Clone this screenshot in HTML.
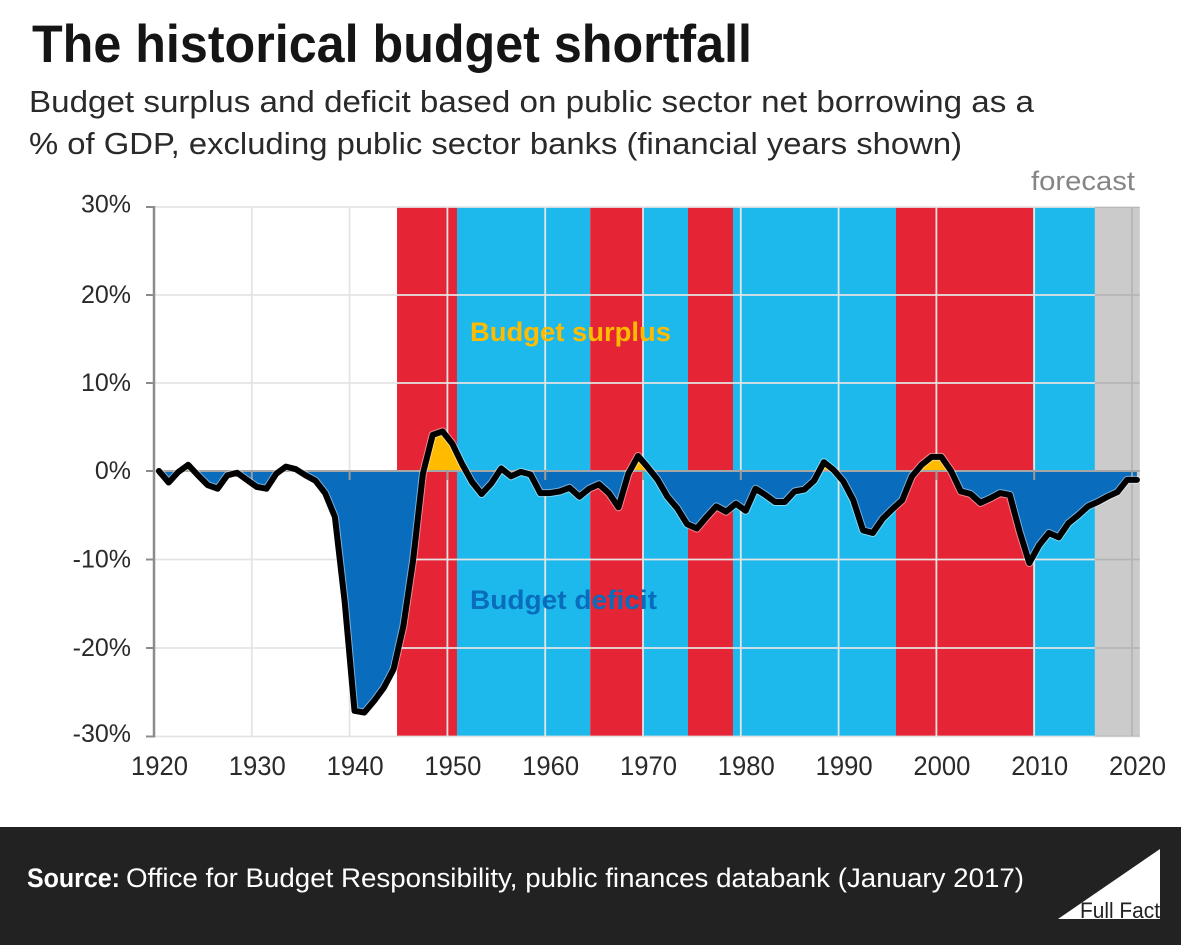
<!DOCTYPE html>
<html lang="en">
<head>
<meta charset="utf-8">
<title>The historical budget shortfall</title>
<style>
html,body{margin:0;padding:0;background:#fff;}
svg{display:block;}
text{font-family:"Liberation Sans",sans-serif;}
</style>
</head>
<body>
<svg id="chart" xmlns="http://www.w3.org/2000/svg" width="1181" height="945" viewBox="0 0 1181 945">
  <defs>
    <clipPath id="clip-above"><rect id="clip-above-rect" x="0" y="0" width="1181" height="471"/></clipPath>
    <clipPath id="clip-below"><rect id="clip-below-rect" x="0" y="471" width="1181" height="474"/></clipPath>
  </defs>
  <rect x="0" y="0" width="1181" height="945" fill="#ffffff"/>
  <text x="32" y="62" font-size="53" font-weight="700" fill="#151515" textLength="720" lengthAdjust="spacingAndGlyphs">The historical budget shortfall</text>
  <text x="29" y="112" font-size="31" fill="#2a2a2a" textLength="1005" lengthAdjust="spacingAndGlyphs">Budget surplus and deficit based on public sector net borrowing as a</text>
  <text x="29" y="154" font-size="31" fill="#2a2a2a" textLength="933" lengthAdjust="spacingAndGlyphs">% of GDP, excluding public sector banks (financial years shown)</text>
  <text x="1031" y="190" font-size="27" fill="#858585" textLength="104" lengthAdjust="spacingAndGlyphs">forecast</text>
  <g id="bands"></g>
  <g id="grid"></g>
  <g id="forecast"></g>
  <g id="areas"></g>
  <g id="axes"></g>
  <g id="line"></g>
  <text x="470" y="341" font-size="27" font-weight="700" fill="#ffbb00" textLength="201" lengthAdjust="spacingAndGlyphs">Budget surplus</text>
  <text x="470" y="609" font-size="27" font-weight="700" fill="#0a6cbc" textLength="187" lengthAdjust="spacingAndGlyphs">Budget deficit</text>
  <rect x="0" y="827" width="1181" height="118" fill="#222222"/>
  <text x="27" y="887" font-size="27" font-weight="700" fill="#ffffff" textLength="93" lengthAdjust="spacingAndGlyphs">Source:</text>
  <text x="126" y="887" font-size="27" fill="#ffffff" textLength="898" lengthAdjust="spacingAndGlyphs">Office for Budget Responsibility, public finances databank (January 2017)</text>
  <g>
    <polygon points="1058,919 1160,849 1160,919" fill="#ffffff"/>
    <text x="1080" y="918" font-size="22" fill="#222222" textLength="80" lengthAdjust="spacingAndGlyphs">Full Fact</text>
  </g>
</svg>
<script>
var years = [1920,1921,1922,1923,1924,1925,1926,1927,1928,1929,1930,1931,1932,1933,1934,1935,1936,1937,1938,1939,1940,1941,1942,1943,1944,1945,1946,1947,1948,1949,1950,1951,1952,1953,1954,1955,1956,1957,1958,1959,1960,1961,1962,1963,1964,1965,1966,1967,1968,1969,1970,1971,1972,1973,1974,1975,1976,1977,1978,1979,1980,1981,1982,1983,1984,1985,1986,1987,1988,1989,1990,1991,1992,1993,1994,1995,1996,1997,1998,1999,2000,2001,2002,2003,2004,2005,2006,2007,2008,2009,2010,2011,2012,2013,2014,2015,2016,2017,2018,2019,2020];
var balance = [0,-1.3,-0.1,0.7,-0.5,-1.6,-2.0,-0.5,-0.2,-1.0,-1.8,-2.0,-0.3,0.5,0.2,-0.5,-1.1,-2.5,-5.2,-14.8,-27.1,-27.3,-26,-24.5,-22.4,-17.5,-10,-0.3,4.1,4.5,3.1,0.8,-1.2,-2.6,-1.4,0.3,-0.6,-0.1,-0.4,-2.5,-2.5,-2.3,-1.9,-2.9,-2.0,-1.5,-2.5,-4.1,-0.3,1.7,0.4,-1.0,-2.9,-4.2,-6.0,-6.5,-5.2,-4.0,-4.6,-3.7,-4.5,-2.0,-2.7,-3.5,-3.5,-2.3,-2.1,-1.1,1.0,0.1,-1.2,-3.3,-6.7,-7.0,-5.4,-4.3,-3.3,-0.6,0.7,1.6,1.6,0,-2.3,-2.6,-3.6,-3.1,-2.5,-2.7,-6.8,-10.4,-8.4,-7.0,-7.5,-5.9,-5.0,-4.0,-3.5,-2.9,-2.4,-1.0,-1.0];
var xTickLabels = ["1920","1930","1940","1950","1960","1970","1980","1990","2000","2010","2020"];
var yTickValues = [30,20,10,0,-10,-20,-30];
var yTickLabels = ["30%","20%","10%","0%","-10%","-20%","-30%"];
var bandStart = [1944.85,1950.98,1964.6,1970,1974.6,1979.2,1995.87,2009.9];
var bandEnd = [1950.98,1964.6,1970,1974.6,1979.2,1995.87,2009.9,2016.2];
var bandParty = ["labour","conservative","labour","conservative","labour","conservative","labour","conservative"];
var forecastStart = 2016.2;
var forecastEnd = 2020.8;

var partyColor = {labour:"#e52535",conservative:"#1eb9ec"};
var SVGNS = "http://www.w3.org/2000/svg";
function xAxis(yr){ return 154 + 9.78 * (yr - 1920); }
function yAxis(v){ return 471 - (v >= 0 ? 8.8 : 8.85) * v; }
function make(parent, tag, attrs, txt){
  var el = document.createElementNS(SVGNS, tag);
  for (var k in attrs){ el.setAttribute(k, attrs[k]); }
  if (txt !== undefined){ el.textContent = txt; }
  document.getElementById(parent).appendChild(el);
  return el;
}
var plotTop = yAxis(30), plotBottom = yAxis(-30), plotLeft = xAxis(1920), plotRight = xAxis(forecastEnd);

bandStart.forEach(function(s, i){
  var band = make("bands", "rect", {x:xAxis(s), y:plotTop, width:xAxis(bandEnd[i]) - xAxis(s), height:plotBottom - plotTop, fill:partyColor[bandParty[i]]});
  
  
});

yTickValues.forEach(function(v){
  if (v === 0) { return; }
  var g = make("grid", "line", {x1:plotLeft, x2:plotRight, y1:yAxis(v), y2:yAxis(v), stroke:"#e4e4e4", "stroke-width":1.8});
  
  
});
xTickLabels.forEach(function(t, i){
  if (i === 0) { return; }
  var yr = parseFloat(t);
  var g = make("grid", "line", {x1:xAxis(yr), x2:xAxis(yr), y1:plotTop, y2:plotBottom, stroke:"#e4e4e4", "stroke-width":1.8});
  
  
});

var fc = make("forecast", "rect", {x:xAxis(forecastStart), y:plotTop, width:xAxis(forecastEnd) - xAxis(forecastStart), height:plotBottom - plotTop, fill:"#cbcbcb", style:"mix-blend-mode:multiply"});



var pts = years.map(function(yr, i){ return [xAxis(yr + 0.5), yAxis(balance[i])]; });
var linePath = pts.map(function(p, i){ return (i ? "L" : "M") + p[0].toFixed(1) + " " + p[1].toFixed(1); }).join(" ");
var areaPath = linePath + " L" + pts[pts.length - 1][0].toFixed(1) + " " + yAxis(0) + " L" + pts[0][0].toFixed(1) + " " + yAxis(0) + " Z";

var clipTop = document.getElementById("clip-above-rect");
clipTop.setAttribute("height", yAxis(0));
var clipLow = document.getElementById("clip-below-rect");
clipLow.setAttribute("y", yAxis(0));

var deficit = make("areas", "path", {d:areaPath, fill:"#0a6cbc", "clip-path":"url(#clip-below)"});


var surplus = make("areas", "path", {d:areaPath, fill:"#ffbb00", "clip-path":"url(#clip-above)"});



var zero = make("axes", "line", {x1:plotLeft, x2:plotRight, y1:yAxis(0), y2:yAxis(0), stroke:"#a6a6a6", "stroke-width":2});


var yLine = make("axes", "line", {x1:plotLeft, x2:plotLeft, y1:plotTop - 1, y2:plotBottom + 1, stroke:"#8c8c8c", "stroke-width":2.5});



yTickValues.forEach(function(v, i){
  var tick = make("axes", "line", {x1:plotLeft - 8, x2:plotLeft, y1:yAxis(v), y2:yAxis(v), stroke:"#8c8c8c", "stroke-width":2});
  
  
  var label = make("axes", "text", {x:131, y:yAxis(v) + (Math.abs(v) === 30 ? 5.5 : 8), "text-anchor":"end", "font-size":25, fill:"#2a2a2a"}, yTickLabels[i]);
  
  
});
xTickLabels.forEach(function(t, i){
  var yr = parseFloat(t);
  if (i > 0) {
    var tick = make("axes", "line", {x1:xAxis(yr), x2:xAxis(yr), y1:yAxis(0), y2:yAxis(0) + 9, stroke:"#9a9a9a", "stroke-width":2});
    
    
  }
  var label = make("axes", "text", {x:xAxis(yr) + 5.5, y:775, "text-anchor":"middle", "font-size":27, fill:"#2a2a2a", textLength:57, lengthAdjust:"spacingAndGlyphs"}, t);
  
  
});

var halo = make("line", "path", {d:linePath, fill:"none", stroke:"rgba(255,255,255,0.45)", "stroke-width":8, "stroke-linejoin":"round", "stroke-linecap":"round"});


var line = make("line", "path", {d:linePath, fill:"none", stroke:"#000000", "stroke-width":6, "stroke-linejoin":"round", "stroke-linecap":"round"});


</script>
</body>
</html>
